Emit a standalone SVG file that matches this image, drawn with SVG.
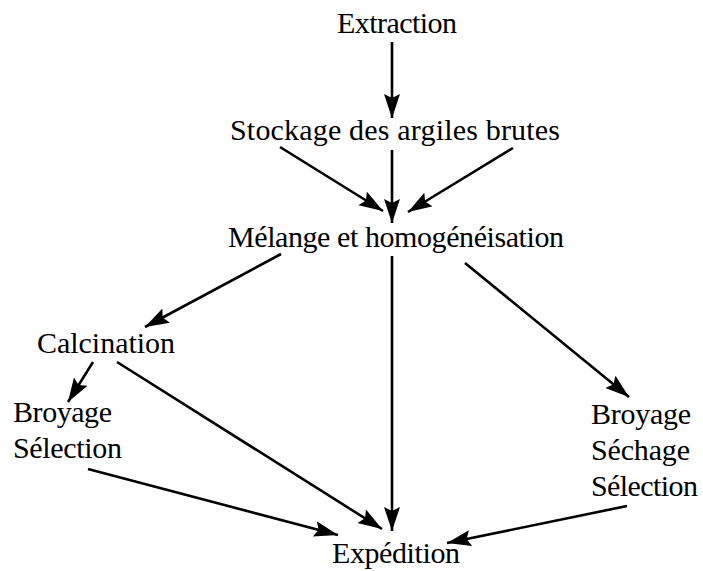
<svg xmlns="http://www.w3.org/2000/svg" width="703" height="571" viewBox="0 0 703 571">
<defs>
<marker id="ah" markerUnits="userSpaceOnUse" markerWidth="26" markerHeight="18" viewBox="0 0 26 18" refX="24" refY="8" orient="auto">
<path d="M0,0 L24,8 L0,16 L4,8 z" fill="#000"/>
</marker>
</defs>
<style>
text{font-family:"Liberation Serif","Times New Roman",serif;font-size:30px;fill:#000}
.c{text-anchor:middle}
#connectors line{stroke:#000;stroke-width:2.6;marker-end:url(#ah)}
</style>
<rect width="703" height="571" fill="#fff"/>
<g id="connectors">
<line x1="392" y1="42" x2="392" y2="118"/>
<line x1="280" y1="147" x2="383" y2="211"/>
<line x1="392" y1="150" x2="392" y2="223"/>
<line x1="513" y1="148" x2="408" y2="212"/>
<line x1="281" y1="254" x2="145" y2="327"/>
<line x1="392" y1="256" x2="392" y2="531"/>
<line x1="465" y1="263" x2="629" y2="397"/>
<line x1="93" y1="362" x2="68" y2="402"/>
<line x1="117" y1="362" x2="382" y2="529"/>
<line x1="88" y1="469" x2="338" y2="535"/>
<line x1="627" y1="506" x2="447" y2="543"/>
</g>
<g id="extraction"><text x="337" y="33" textLength="120">Extraction</text></g>
<g id="stockage"><text x="230" y="140" textLength="330">Stockage des argiles brutes</text></g>
<g id="melange"><text x="228" y="247" textLength="336">Mélange et homogénéisation</text></g>
<g id="calcination"><text x="37" y="353" textLength="138">Calcination</text></g>
<g id="broyage-gauche"><text x="13" y="422" textLength="99">Broyage</text><text x="13" y="458" textLength="109">Sélection</text></g>
<g id="broyage-droite"><text x="591" y="424" textLength="100">Broyage</text><text x="591" y="460" textLength="99">Séchage</text><text x="591" y="496" textLength="107">Sélection</text></g>
<g id="expedition"><text x="332" y="563" textLength="128">Expédition</text></g>
</svg>
